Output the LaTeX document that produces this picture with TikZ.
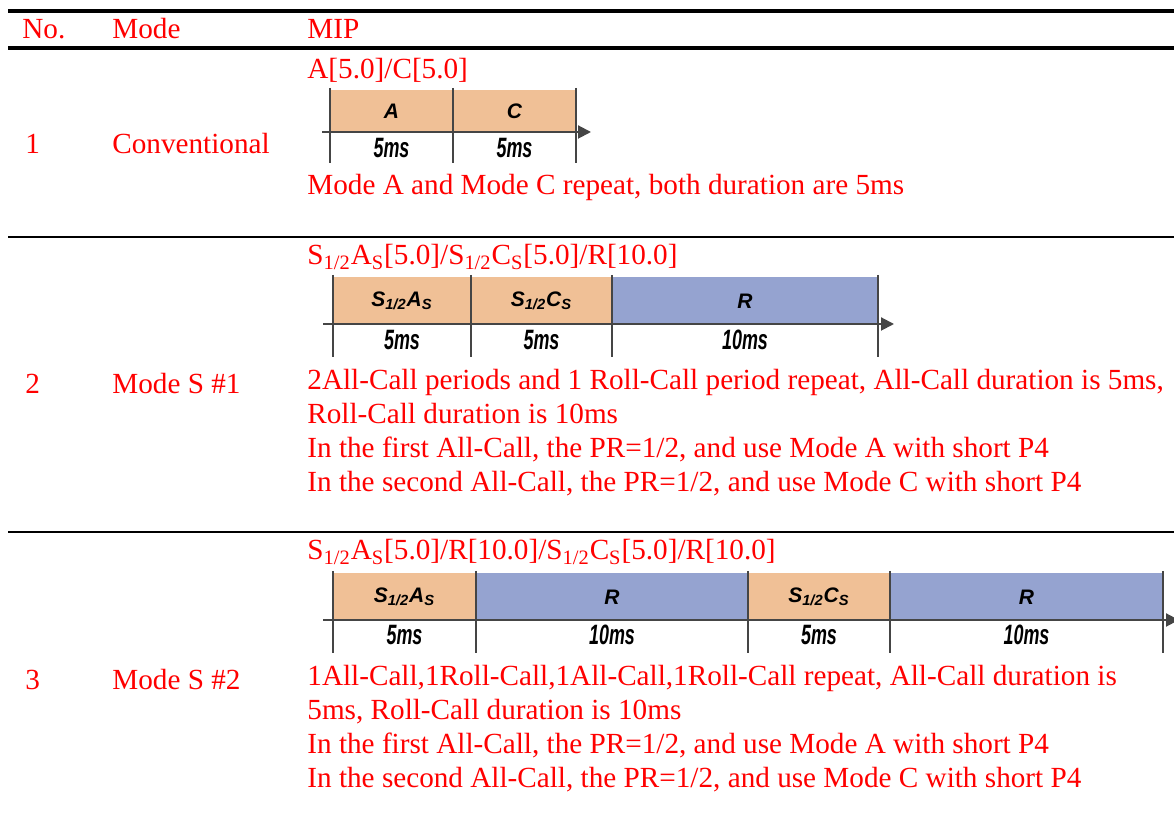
\documentclass[tikz,border=0pt]{standalone}
\usepackage{fontspec}
\setmainfont{Liberation Serif}
\newfontfamily\boxfont{Liberation Sans}
\usepackage{xcolor}
\usepackage{tikz}
\usetikzlibrary{positioning, arrows.meta}

\definecolor{allcall}{HTML}{F0C096}
\definecolor{rollcall}{HTML}{95A3D0}
\definecolor{axisgray}{HTML}{454545}

\newcommand{\segSA}{S\textsubscript{1/2}A\textsubscript{S}}
\newcommand{\segSC}{S\textsubscript{1/2}C\textsubscript{S}}
\newcommand{\durtext}[1]{\scalebox{0.64}[1]{#1}}

\tikzset{
	redtext/.style={anchor=base west, inner sep=0pt, text=red, font=\fontsize{14.6}{17}\selectfont},
	seglabel/.style={inner sep=0pt, font=\boxfont\bfseries\itshape\fontsize{10.5}{12}\selectfont},
	durlabel/.style={inner sep=0pt, font=\boxfont\bfseries\itshape\fontsize{14}{16}\selectfont},
	tickline/.style={axisgray, line width=0.75pt},
	timeaxis/.style={axisgray, line width=1pt, -{Triangle[length=6.5pt,width=6.5pt]}},
	thickrule/.style={line width=1.6pt},
	thinrule/.style={line width=1pt}
}

\begin{document}
\begin{tikzpicture}[x=0.5pt, y=-0.5pt]
	\useasboundingbox (0,0) rectangle (1174,822);
	
	% table rules
	\draw[thickrule] (8,11) -- (1174,11);
	\draw[thickrule] (8,48) -- (1174,48);
	\draw[thinrule] (8,237) -- (1174,237);
	\draw[thinrule] (8,532) -- (1174,532);
	
	% header
	\node[redtext] (hno) at (22,39) {No.};
	\node[redtext] (hmode) at (112,39) {Mode};
	\node[redtext] (hmip) at (307,39) {MIP};
	
	% row 1
	\node[redtext] (n1) at (25,154) {1};
	\node[redtext] (m1) at (112,154) {Conventional};
	\node[redtext] (t1) at (307,79) {A[5.0]/C[5.0]};
	\foreach \xa/\xb/\lab/\dur/\col [count=\i] in {330/453/A/5ms/allcall, 453/576/C/5ms/allcall}
	{
		\fill[\col] (\xa,90) rectangle (\xb,132);
		\node[seglabel] (sa\i) at ({(\xa+\xb)/2},111) {\lab};
		\node[durlabel] (da\i) at ({(\xa+\xb)/2},148) {\durtext{\dur}};
	}
	\coordinate (axa0) at (322,132);
	\coordinate (axa1) at (591,132);
	\draw[timeaxis] (axa0) -- (axa1);
	\foreach \x in {330,453,576}
	\draw[tickline] (\x,88) -- (\x,163);
	\node[redtext] (ta1) at (307,195) {Mode A and Mode C repeat, both duration are 5ms};
	
	% row 2
	\node[redtext] (n2) at (25,394) {2};
	\node[redtext] (m2) at (112,394) {Mode S \#1};
	\node[redtext] (t2) at (307,265) {\segSA[5.0]/\segSC[5.0]/R[10.0]};
	\foreach \xa/\xb/\lab/\dur/\col [count=\i] in {333/471/\segSA/5ms/allcall, 471/612/\segSC/5ms/allcall, 612/878/R/10ms/rollcall}
	{
		\fill[\col] (\xa,277) rectangle (\xb,324);
		\node[seglabel] (sb\i) at ({(\xa+\xb)/2},301) {\lab};
		\node[durlabel] (db\i) at ({(\xa+\xb)/2},340) {\durtext{\dur}};
	}
	\coordinate (axb0) at (323,324);
	\coordinate (axb1) at (894,324);
	\draw[timeaxis] (axb0) -- (axb1);
	\foreach \x in {333,471,612,878}
	\draw[tickline] (\x,275) -- (\x,357);
	\node[redtext] (tb1) at (307,390) {2All-Call periods and 1 Roll-Call period repeat, All-Call duration is 5ms,};
	\node[redtext] (tb2) at (307,424) {Roll-Call duration is 10ms};
	\node[redtext] (tb3) at (307,458) {In the first All-Call, the PR=1/2, and use Mode A with short P4};
	\node[redtext] (tb4) at (307,492) {In the second All-Call, the PR=1/2, and use Mode C with short P4};
	
	% row 3
	\node[redtext] (n3) at (25,690) {3};
	\node[redtext] (m3) at (112,690) {Mode S \#2};
	\node[redtext] (t3) at (307,560) {\segSA[5.0]/R[10.0]/\segSC[5.0]/R[10.0]};
	\foreach \xa/\xb/\lab/\dur/\col [count=\i] in {333/476/\segSA/5ms/allcall, 476/748/R/10ms/rollcall, 748/890/\segSC/5ms/allcall, 890/1163/R/10ms/rollcall}
	{
		\fill[\col] (\xa,573) rectangle (\xb,620);
		\node[seglabel] (sc\i) at ({(\xa+\xb)/2},597) {\lab};
		\node[durlabel] (dc\i) at ({(\xa+\xb)/2},635) {\durtext{\dur}};
	}
	\coordinate (axc0) at (323,620);
	\coordinate (axc1) at (1179,620);
	\draw[timeaxis] (axc0) -- (axc1);
	\foreach \x in {333,476,748,890,1163}
	\draw[tickline] (\x,571) -- (\x,653);
	\node[redtext] (tc1) at (307,686) {1All-Call,1Roll-Call,1All-Call,1Roll-Call repeat, All-Call duration is};
	\node[redtext] (tc2) at (307,720) {5ms, Roll-Call duration is 10ms};
	\node[redtext] (tc3) at (307,754) {In the first All-Call, the PR=1/2, and use Mode A with short P4};
	\node[redtext] (tc4) at (307,788) {In the second All-Call, the PR=1/2, and use Mode C with short P4};
\end{tikzpicture}
\end{document}
